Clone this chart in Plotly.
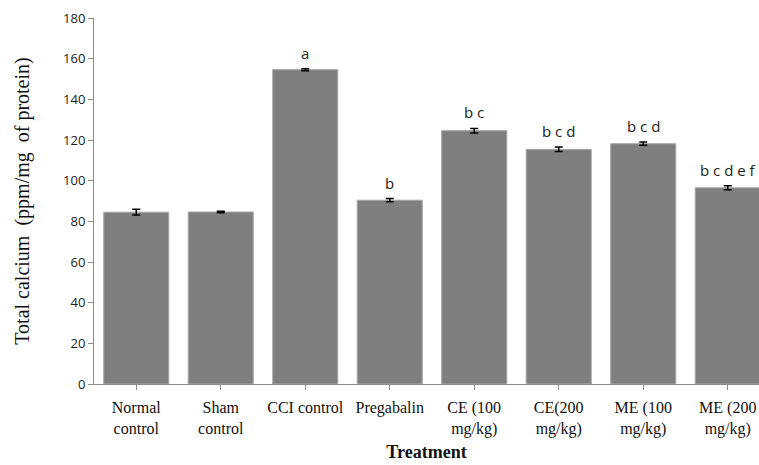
import plotly.graph_objects as go

categories = ["Normal<br>control", "Sham<br>control", "CCI control", "Pregabalin",
              "CE (100<br>mg/kg)", "CE(200<br>mg/kg)", "ME (100<br>mg/kg)", "ME (200<br>mg/kg)"]
values = [84.5, 84.6, 154.6, 90.4, 124.6, 115.4, 118.2, 96.5]
errors = [1.4, 0.4, 0.5, 0.8, 1.1, 1.1, 0.8, 1.0]
letters = ["", "", "a", "b", "b c", "b c d", "b c d", "b c d e f"]
y_ticks = [0, 20, 40, 60, 80, 100, 120, 140, 160, 180]

fig = go.Figure()
fig.add_trace(go.Bar(
    x=list(range(len(categories))), y=values,
    marker=dict(color="#7f7f7f", line=dict(color="#a8a8a8", width=1)),
    width=0.77,
    error_y=dict(type="data", array=errors, visible=True, color="#000000",
                 thickness=1.5, width=4),
    showlegend=False,
))

for i, (v, e, t) in enumerate(zip(values, errors, letters)):
    if t:
        fig.add_annotation(x=i, y=v + e, text=t, showarrow=False, yanchor="bottom",
                           yshift=4, font=dict(family="Open Sans, Noto Sans, sans-serif",
                                               size=15, color="#222222"))

axis_col = "#8c8c8c"
serif = "Liberation Serif, Times New Roman, serif"
fig.update_layout(
    width=759, height=465,
    margin=dict(l=94, r=0, t=18, b=81),
    plot_bgcolor="white", paper_bgcolor="white",
    xaxis=dict(
        range=[-0.5, 7.37],
        tickmode="array", tickvals=list(range(len(categories))), ticktext=categories,
        tickson="boundaries", ticks="outside", ticklen=5, tickcolor=axis_col,
        showline=True, linecolor=axis_col, linewidth=1,
        showgrid=False, zeroline=False, ticklabelstandoff=4,
        tickfont=dict(family=serif, size=16, color="#111111"),
        title=dict(text="<b>Treatment</b>", standoff=8,
                   font=dict(family=serif, size=18, color="#111111")),
    ),
    yaxis=dict(
        range=[0, 180], tickvals=y_ticks,
        ticks="outside", ticklen=5, tickcolor=axis_col,
        showline=True, linecolor=axis_col, linewidth=1,
        showgrid=False, zeroline=False,
        tickfont=dict(family="Open Sans, Noto Sans, sans-serif", size=13, color="#222222"),
        title=dict(text="Total calcium  (ppm/mg  of protein)", standoff=28,
                   font=dict(family=serif, size=20, color="#111111")),
    ),
)

fig.write_html("out.html", config={"displayModeBar": False},
               post_script="document.body.style.margin='0';document.body.style.overflow='hidden';")
